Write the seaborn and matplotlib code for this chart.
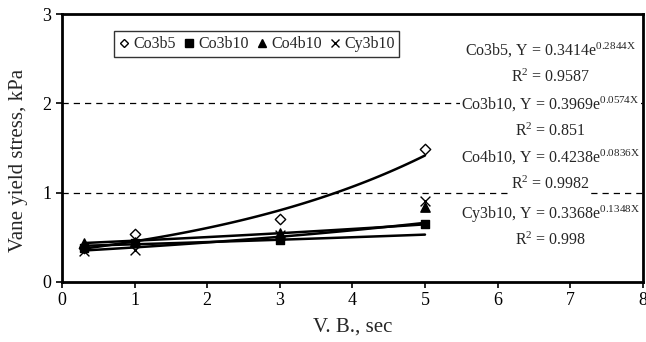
import numpy as np
import pandas as pd
import matplotlib
matplotlib.use("Agg")
import matplotlib.pyplot as plt
import seaborn as sns

# Measured vane yield stress (kPa) against V. B. time (sec)
vb_time = [0.3, 1, 3, 5]
co3b5 = [0.38, 0.53, 0.70, 1.49]
co3b10 = [0.38, 0.44, 0.47, 0.65]
co4b10 = [0.43, 0.45, 0.55, 0.84]
cy3b10 = [0.34, 0.36, 0.52, 0.90]

series_names = ["Co3b5", "Co3b10", "Co4b10", "Cy3b10"]
# Exponential trend coefficients: Y = a * exp(b * X)
fit_a = [0.3414, 0.3969, 0.4238, 0.3368]
fit_b = [0.2844, 0.0574, 0.0836, 0.1348]
fit_r2 = ["0.9587", "0.851", "0.9982", "0.998"]

x_ticks = [0, 1, 2, 3, 4, 5, 6, 7, 8]
y_ticks = [0, 1, 2, 3]

sns.set_style("ticks")
plt.rcParams["font.family"] = ["Liberation Serif", "DejaVu Serif"]
plt.rcParams["mathtext.fontset"] = "custom"
plt.rcParams["mathtext.rm"] = "Liberation Serif"
plt.rcParams["mathtext.it"] = "Liberation Serif"

points = pd.DataFrame({
    "x": vb_time * 4,
    "y": co3b5 + co3b10 + co4b10 + cy3b10,
    "mix": sum([[n] * len(vb_time) for n in series_names], []),
})

fig = plt.figure(figsize=(6.46, 3.42), dpi=100)
ax = fig.add_axes([0.096, 0.176, 0.899, 0.783])

# trend curves
xt = np.linspace(0.3, 5, 60)
trend_rows = []
for n, a, b in zip(series_names, fit_a, fit_b):
    for xv in xt:
        trend_rows.append({"x": xv, "y": a * np.exp(b * xv), "mix": n})
trend = pd.DataFrame(trend_rows)
sns.lineplot(data=trend, x="x", y="y", units="mix", estimator=None,
             color="black", linewidth=1.8, ax=ax, legend=False, zorder=3)

markers = {"Co3b5": "D", "Co3b10": "s", "Co4b10": "^", "Cy3b10": "x"}
face = {"Co3b5": "white", "Co3b10": "black", "Co4b10": "black", "Cy3b10": "black"}
sizes = {"Co3b5": 28, "Co3b10": 40, "Co4b10": 45, "Cy3b10": 50}
handles = []
for n in series_names:
    sub = points[points["mix"] == n]
    sns.scatterplot(data=sub, x="x", y="y", marker=markers[n],
                    facecolor=face[n], edgecolor="black", color="black",
                    linewidth=1.0, s=sizes[n], ax=ax, zorder=4, legend=False)
    h = plt.Line2D([], [], linestyle="none", marker=markers[n],
                   markerfacecolor=face[n], markeredgecolor="black",
                   markersize=5.5 if n != "Co3b5" else 4.5, markeredgewidth=1.0)
    handles.append(h)

ax.set_xlim(0, 8)
ax.set_ylim(0, 3)
ax.set_xticks(x_ticks)
ax.set_yticks(y_ticks)
ax.tick_params(direction="out", length=4, width=1.2, labelsize=13, colors="black")
for s in ax.spines.values():
    s.set_linewidth(2)
    s.set_color("black")
    s.set_visible(True)

for yv in [1, 2]:
    ax.axhline(yv, color="black", linestyle=(0, (5, 4)), linewidth=0.9, zorder=1)

ax.set_xlabel("V. B., sec", fontsize=15, labelpad=6)
ax.set_ylabel("Vane yield stress, kPa", fontsize=15)
ax.yaxis.set_label_coords(-0.058, 0.455)

leg = ax.legend(handles, series_names, loc="upper left", bbox_to_anchor=(0.09, 0.935),
                ncol=4, fontsize=11.5, frameon=True, fancybox=False,
                handlelength=0.6, handletextpad=0.3, columnspacing=0.5,
                borderpad=0.3, borderaxespad=0)
leg.get_frame().set_edgecolor("black")
leg.get_frame().set_linewidth(1.0)

# equation labels at the right
eq_y = [2.59, 1.99, 1.39, 0.76]
for n, a, b, r2, yv in zip(series_names, fit_a, fit_b, fit_r2, eq_y):
    ax.text(6.73, yv, f"{n}, Y = {a:.4f}e$^{{{b:.4f}X}}$",
            ha="center", va="center", fontsize=11.5,
            bbox=dict(facecolor="white", edgecolor="none", pad=1), zorder=5)
    ax.text(6.73, yv - 0.3, f"R$^{{2}}$ = {r2}", ha="center", va="center",
            fontsize=11.5, bbox=dict(facecolor="white", edgecolor="none", pad=1),
            zorder=5)

fig.savefig("out.png", dpi=100)
